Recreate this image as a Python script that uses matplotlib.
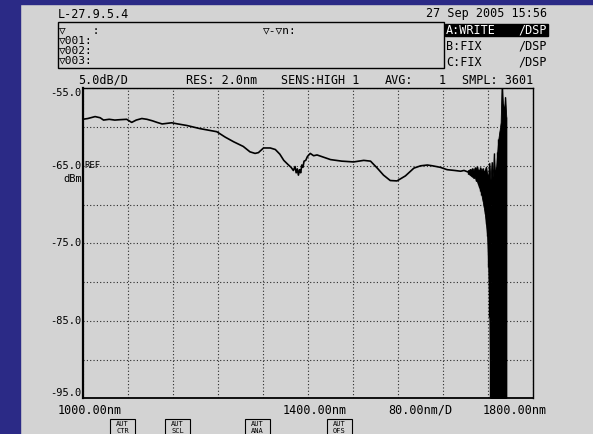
"""
Optical spectrum analyser screen capture (L-27.9.5.4), redrawn with matplotlib.
Trace values are read off the screenshot by eye.
"""
import matplotlib
matplotlib.use("Agg")
import matplotlib.pyplot as plt
from matplotlib.patches import Rectangle

W, H = 593, 434
BG = "#d3d3d3"
NAVY = "#2b2a86"
MONO = ["DejaVu Sans Mono", "DejaVu Sans"]

# smooth part of trace A (nm, dBm)
trace_nm = [1000, 1009, 1022, 1031, 1037, 1047, 1057, 1066, 1078, 1087, 1095,
            1105, 1114, 1124, 1132, 1141, 1158, 1169, 1185, 1208, 1238, 1253,
            1268, 1285, 1297, 1306, 1312, 1321, 1333, 1342, 1350, 1357, 1364,
            1370, 1374, 1377, 1379, 1381, 1383, 1385, 1387, 1389, 1391, 1393,
            1396, 1399, 1404, 1410, 1416, 1428, 1440, 1460, 1481, 1499, 1511,
            1523, 1534, 1546, 1558, 1573, 1588, 1600, 1612, 1621, 1635, 1647,
            1660, 1671, 1677, 1684]
trace_db = [-59.0, -58.9, -58.65, -58.8, -59.1, -59.0, -59.1, -59.05, -59.0,
            -59.4, -59.1, -58.9, -59.0, -59.2, -59.4, -59.6, -59.45, -59.6,
            -59.8, -60.2, -60.6, -61.3, -61.9, -62.5, -63.2, -63.4, -63.3,
            -62.7, -62.7, -62.9, -63.5, -64.3, -64.8, -65.2, -65.6, -65.1,
            -65.9, -65.4, -66.2, -65.5, -65.9, -64.9, -65.2, -64.4, -64.3,
            -63.8, -63.4, -63.7, -63.6, -63.9, -64.2, -64.4, -64.5, -64.3,
            -64.4, -65.3, -66.2, -66.9, -66.95, -66.3, -65.3, -65.0, -64.9,
            -65.0, -65.2, -65.5, -65.6, -65.7, -65.6, -65.8]

# noisy tail: upper / lower envelope per sample
noise_nm = [1684, 1686, 1688, 1690, 1692, 1694, 1696, 1698, 1700, 1702, 1704,
            1706, 1708, 1710, 1712, 1714, 1716, 1718, 1720, 1722, 1724, 1726,
            1728, 1730, 1732, 1734, 1736, 1738, 1740, 1742, 1744, 1746, 1748,
            1750, 1752]
noise_hi = [-65.6, -65.5, -65.4, -65.5, -65.3, -65.6, -65.2, -65.4, -65.0,
            -65.6, -65.5, -65.2, -65.6, -65.3, -65.8, -65.5, -65.1, -66.0,
            -66.2, -64.6, -66.8, -64.5, -66.5, -63.4, -66.0, -65.2, -63.2,
            -61.5, -60.5, -59.5, -54.0, -57.0, -57.8, -56.1, -58.7]
noise_lo = [-66.0, -66.1, -66.2, -66.3, -66.4, -66.6, -66.4, -66.9, -67.0,
            -67.4, -67.8, -68.2, -68.8, -69.5, -70.3, -71.2, -72.5, -74.0,
            -78.0, -84.5, -96, -96, -96, -96, -96, -96, -96, -96, -96, -96,
            -96, -96, -96, -96, -96]

y_ticks = [-55, -65, -75, -85, -95]
y_labels = ["-55.0", "-65.0", "-75.0", "-85.0", "-95.0"]


def fx(x):
    return x / W


def fy(y):
    return 1 - y / H


def main():
    fig = plt.figure(figsize=(W / 100, H / 100), dpi=100, facecolor=BG)

    # navy frame of the capture
    fig.patches.append(Rectangle((0, 0), fx(20), 1, transform=fig.transFigure,
                                 color=NAVY, zorder=0))
    fig.patches.append(Rectangle((0, fy(4)), 1, fy(0) - fy(4),
                                 transform=fig.transFigure, color=NAVY, zorder=0))

    ax = fig.add_axes([fx(82.7), fy(398.3), fx(533.3) - fx(82.7),
                       fy(88.3) - fy(398.3)])
    ax.set_facecolor(BG)
    ax.set_xlim(1000, 1800)
    ax.set_ylim(-95, -55)
    ax.set_xticks(range(1000, 1801, 80))
    ax.set_yticks(range(-95, -54, 5))
    ax.grid(True, color="#2a2a2a", linestyle=(0, (1, 2)), linewidth=0.8)
    ax.tick_params(length=0, labelbottom=False, labelleft=False)
    for s in ax.spines.values():
        s.set_color("black")
        s.set_linewidth(1.0)
    ax.spines["left"].set_linewidth(1.6)
    ax.spines["bottom"].set_linewidth(1.3)

    ax.plot(trace_nm, trace_db, color="black", linewidth=1.2)
    ax.fill_between(noise_nm, noise_lo, noise_hi, color="black", linewidth=0.6)
    ax.vlines(noise_nm, noise_lo, noise_hi, color="black", linewidth=1.0)

    # y labels (instrument style)
    for v, lab in zip(y_ticks, y_labels):
        va = "center"
        if v == -55:
            va = "top"
        elif v == -95:
            va = "bottom"
        ax.text(-0.003, (v + 95) / 40, lab, transform=ax.transAxes, ha="right",
                va=va, fontsize=7.5, family=MONO)
    ax.text(0.003, 0.75, "REF", transform=ax.transAxes, ha="left",
            va="center", fontsize=6.5, family=MONO)
    fig.text(fx(82), fy(179.5), "dBm", ha="right", va="center", fontsize=7.5,
             family=MONO)

    # header
    fs = 8.5
    fig.text(fx(58), fy(14), "L-27.9.5.4", ha="left", va="center",
             fontsize=fs, family=MONO)
    fig.text(fx(547), fy(14), "27 Sep 2005 15:56", ha="right", va="center",
             fontsize=fs, family=MONO)

    fig.patches.append(Rectangle((fx(58), fy(68)), fx(444) - fx(58),
                                 fy(22) - fy(68), transform=fig.transFigure,
                                 fill=False, edgecolor="black", linewidth=1.0))
    small = 8
    for y, lab in [(30, "\u25bd    :"), (40.5, "\u25bd001:"), (50.5, "\u25bd002:"),
                   (60.5, "\u25bd003:")]:
        fig.text(fx(59), fy(y), lab, ha="left", va="center", fontsize=small,
                 family=MONO)
    fig.text(fx(263), fy(30), "\u25bd-\u25bdn:", ha="left", va="center",
             fontsize=small, family=MONO)

    fig.patches.append(Rectangle((fx(445), fy(36)), fx(548) - fx(445),
                                 fy(24) - fy(36), transform=fig.transFigure,
                                 color="black"))
    for y, a, col in [(30, "A:WRITE", "white"), (46, "B:FIX", "black"),
                      (62, "C:FIX", "black")]:
        fig.text(fx(446), fy(y), a, ha="left", va="center", fontsize=fs,
                 family=MONO, color=col)
        fig.text(fx(547), fy(y), "/DSP", ha="right", va="center", fontsize=fs,
                 family=MONO, color=col)

    for x, lab in [(78, "5.0dB/D"), (186, "RES: 2.0nm"), (281, "SENS:HIGH 1"),
                   (385, "AVG:"), (439, "1"), (462, "SMPL: 3601")]:
        fig.text(fx(x), fy(80), lab, ha="left", va="center", fontsize=fs,
                 family=MONO)

    # footer
    for x, lab in [(58, "1000.00nm"), (283, "1400.00nm"), (388, "80.00nm/D"),
                   (483, "1800.00nm")]:
        fig.text(fx(x), fy(410), lab, ha="left", va="center", fontsize=fs,
                 family=MONO)
    for x, lab in [(110, "CTR"), (165, "SCL"), (245, "ANA"), (327, "OFS")]:
        fig.patches.append(Rectangle((fx(x), fy(436)), fx(25), fy(419) - fy(436),
                                     transform=fig.transFigure, fill=False,
                                     edgecolor="black", linewidth=0.8))
        fig.text(fx(x + 12.5), fy(424), "AUT", ha="center", va="center",
                 fontsize=5, family=MONO)
        fig.text(fx(x + 12.5), fy(431), lab, ha="center", va="center",
                 fontsize=5, family=MONO)

    fig.savefig("out.png", dpi=100, facecolor=BG)


if __name__ == "__main__":
    main()
